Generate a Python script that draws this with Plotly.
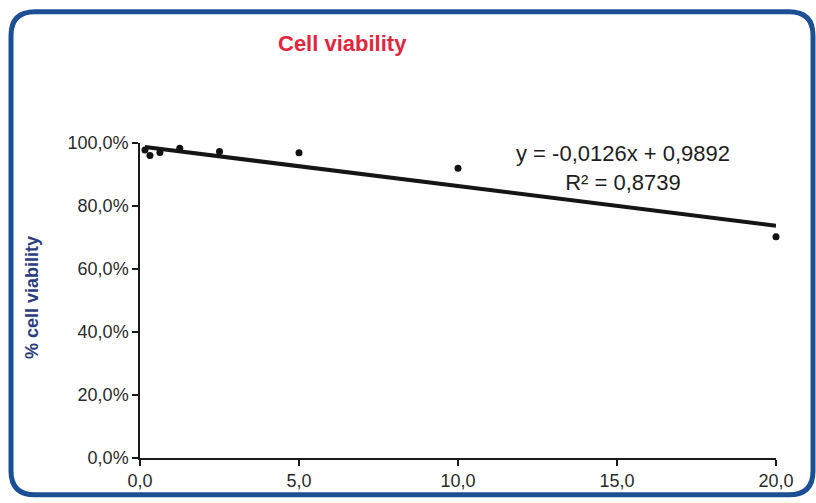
import plotly.graph_objects as go

# ---- data ----
concentrations = [0.156, 0.3125, 0.625, 1.25, 2.5, 5.0, 10.0, 20.0]
viability = [0.978, 0.960, 0.970, 0.983, 0.973, 0.969, 0.920, 0.702]
trend_slope = -0.0126
trend_intercept = 0.9892
r_squared = 0.8739
x_tick_vals = [0, 5, 10, 15, 20]
x_tick_text = ["0,0", "5,0", "10,0", "15,0", "20,0"]
y_tick_vals = [0, 0.2, 0.4, 0.6, 0.8, 1.0]
y_tick_text = ["0,0%", "20,0%", "40,0%", "60,0%", "80,0%", "100,0%"]
title_text = "Cell viability"
y_title = "% cell viability"

# ---- layout geometry (pixels) ----
W, H = 816, 503
L, R, T, B = 140, 40, 143, 43
PW, PH = W - L - R, H - T - B


def px(x):
    return (x - L) / PW


def py(y):
    return (H - B - y) / PH


fig = go.Figure()

# trend line over data range
tx = [min(concentrations), max(concentrations)]
ty = [trend_slope * v + trend_intercept for v in tx]
fig.add_trace(go.Scatter(x=tx, y=ty, mode="lines",
                         line=dict(color="#151515", width=4),
                         hoverinfo="skip", showlegend=False))
fig.add_trace(go.Scatter(x=concentrations, y=viability, mode="markers",
                         marker=dict(color="#111111", size=7),
                         cliponaxis=False, showlegend=False))

# rounded border
x0, x1, y0, y1, r = 11, 813, 11, 497, 24
path = (f"M {px(x0 + r)},{py(y0)} L {px(x1 - r)},{py(y0)} "
        f"Q {px(x1)},{py(y0)} {px(x1)},{py(y0 + r)} "
        f"L {px(x1)},{py(y1 - r)} Q {px(x1)},{py(y1)} {px(x1 - r)},{py(y1)} "
        f"L {px(x0 + r)},{py(y1)} Q {px(x0)},{py(y1)} {px(x0)},{py(y1 - r)} "
        f"L {px(x0)},{py(y0 + r)} Q {px(x0)},{py(y0)} {px(x0 + r)},{py(y0)} Z")
fig.add_shape(type="path", path=path, xref="paper", yref="paper",
              line=dict(color="#1d4f95", width=5), layer="above")

font_main = "Liberation Sans, Arial, sans-serif"

fig.add_annotation(text=title_text, x=px(342), y=py(43), xref="paper", yref="paper",
                   showarrow=False, xanchor="center", yanchor="middle",
                   font=dict(family=font_main, size=22, color="#e3253d", weight="bold"))
fig.add_annotation(text=y_title, x=px(32), y=py(299), xref="paper", yref="paper",
                   showarrow=False, xanchor="center", yanchor="middle", textangle=-90,
                   font=dict(family=font_main, size=18, color="#2b3c7e", weight="bold"))
eq_text = (f"y = {trend_slope:.4f}x + {trend_intercept:.4f}".replace(".", ",")
           + "<br>" + f"R² = {r_squared:.4f}".replace(".", ","))
fig.add_annotation(text=eq_text, x=px(623), y=py(168), xref="paper", yref="paper",
                   showarrow=False, xanchor="center", yanchor="middle", align="center",
                   font=dict(family=font_main, size=22, color="#1e1e1e"))

fig.update_layout(
    width=W, height=H,
    margin=dict(l=L, r=R, t=T, b=B),
    paper_bgcolor="white", plot_bgcolor="white",
    font=dict(family=font_main, size=18, color="#2a2a2a"),
    xaxis=dict(range=[0, 20], tickvals=x_tick_vals, ticktext=x_tick_text,
               showgrid=False, zeroline=False, showline=True, linecolor="#1a1a1a",
               linewidth=1.5, ticks="outside", ticklen=6, tickcolor="#1a1a1a",
               tickwidth=1.5),
    yaxis=dict(range=[0, 1.0], tickvals=y_tick_vals, ticktext=y_tick_text,
               showgrid=False, zeroline=False, showline=True, linecolor="#1a1a1a",
               linewidth=1.5, ticks="outside", ticklen=6, tickcolor="#1a1a1a",
               tickwidth=1.5),
)

fig.write_html("out.html", config={"displayModeBar": False},
               post_script="document.body.style.margin='0';")
